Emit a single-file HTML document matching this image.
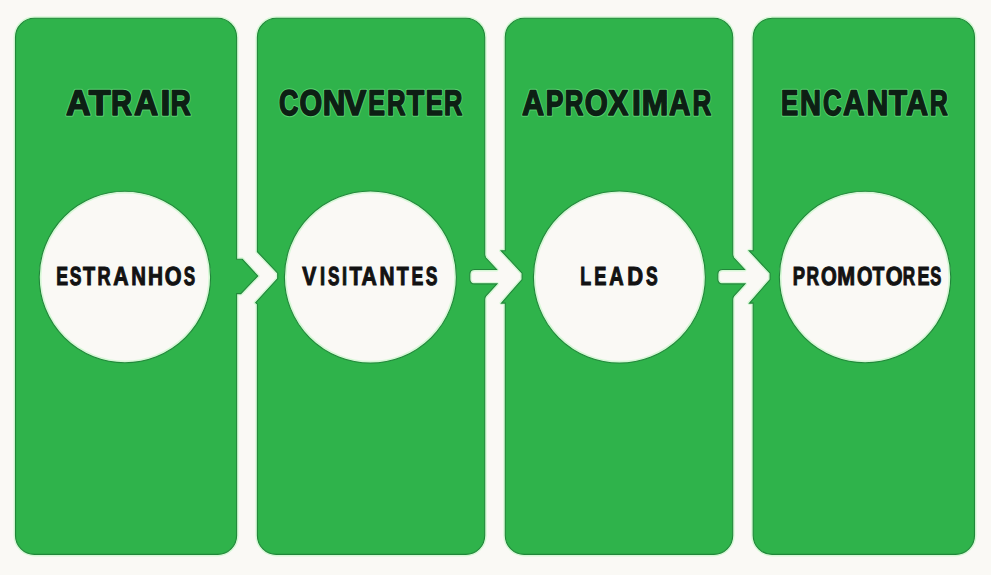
<!DOCTYPE html>
<html><head><meta charset="utf-8">
<style>
html,body{margin:0;padding:0;background:#faf9f5;width:991px;height:575px;overflow:hidden;}
svg{display:block;}
.h{text-rendering:geometricPrecision;font-family:"Liberation Sans",sans-serif;font-weight:bold;fill:#0d1f14;stroke:#0d1f14;stroke-width:1.7;stroke-linejoin:round;}
.l{text-rendering:geometricPrecision;font-family:"Liberation Sans",sans-serif;font-weight:bold;fill:#121212;stroke:#121212;stroke-width:0.5;}
</style></head>
<body>
<svg width="991" height="575" viewBox="0 0 991 575">
<rect x="0" y="0" width="991" height="575" fill="#faf9f5"/>
<g fill="none" stroke="#d6f8d6" stroke-width="4" stroke-linejoin="round">
<path d="M34.5 18.2H217.6A19 19 0 0 1 236.6 37.2V259.3H242.3L257.7 276L240.8 293.6H236.6V535.4A19 19 0 0 1 217.6 554.4H34.5A19 19 0 0 1 15.5 535.4V37.2A19 19 0 0 1 34.5 18.2Z"/>
<path d="M276.4 18.2H465.7A19 19 0 0 1 484.7 37.2V254Q484.7 256.6 485.9 258L496.5 269.5H474.8Q469.8 269.5 469.8 274.5V278.9Q469.8 283.9 474.8 283.9H496.95L485.9 295.8Q484.7 297.2 484.7 299.5V535.4A19 19 0 0 1 465.7 554.4H276.4A19 19 0 0 1 257.4 535.4V304.2L255.7 302.6L277.7 278.6V273.1L257.4 251.7V37.2A19 19 0 0 1 276.4 18.2Z"/>
<path d="M524.3 18.2H713.7A19 19 0 0 1 732.7 37.2V254Q732.7 256.6 733.9000000000001 258L744.5 269.5H722.8Q717.8 269.5 717.8 274.5V278.9Q717.8 283.9 722.8 283.9H744.95L733.9000000000001 295.8Q732.7 297.2 732.7 299.5V535.4A19 19 0 0 1 713.7 554.4H524.3A19 19 0 0 1 505.3 535.4V303.1H501.5L522.1 279.5V273.2L501.2 250.7H505.3V37.2A19 19 0 0 1 524.3 18.2Z"/>
<path d="M772.2 18.2H955.5A19 19 0 0 1 974.5 37.2V535.4A19 19 0 0 1 955.5 554.4H772.2A19 19 0 0 1 753.2 535.4V303.1H749.5L770.1 279.5V273.2L749.2 250.7H753.2V37.2A19 19 0 0 1 772.2 18.2Z"/>
</g>
<g fill="#2fb34b" stroke="#21873a" stroke-width="1.1">
<path d="M34.5 18.2H217.6A19 19 0 0 1 236.6 37.2V259.3H242.3L257.7 276L240.8 293.6H236.6V535.4A19 19 0 0 1 217.6 554.4H34.5A19 19 0 0 1 15.5 535.4V37.2A19 19 0 0 1 34.5 18.2Z"/>
<path d="M276.4 18.2H465.7A19 19 0 0 1 484.7 37.2V254Q484.7 256.6 485.9 258L496.5 269.5H474.8Q469.8 269.5 469.8 274.5V278.9Q469.8 283.9 474.8 283.9H496.95L485.9 295.8Q484.7 297.2 484.7 299.5V535.4A19 19 0 0 1 465.7 554.4H276.4A19 19 0 0 1 257.4 535.4V304.2L255.7 302.6L277.7 278.6V273.1L257.4 251.7V37.2A19 19 0 0 1 276.4 18.2Z"/>
<path d="M524.3 18.2H713.7A19 19 0 0 1 732.7 37.2V254Q732.7 256.6 733.9000000000001 258L744.5 269.5H722.8Q717.8 269.5 717.8 274.5V278.9Q717.8 283.9 722.8 283.9H744.95L733.9000000000001 295.8Q732.7 297.2 732.7 299.5V535.4A19 19 0 0 1 713.7 554.4H524.3A19 19 0 0 1 505.3 535.4V303.1H501.5L522.1 279.5V273.2L501.2 250.7H505.3V37.2A19 19 0 0 1 524.3 18.2Z"/>
<path d="M772.2 18.2H955.5A19 19 0 0 1 974.5 37.2V535.4A19 19 0 0 1 955.5 554.4H772.2A19 19 0 0 1 753.2 535.4V303.1H749.5L770.1 279.5V273.2L749.2 250.7H753.2V37.2A19 19 0 0 1 772.2 18.2Z"/>
</g>
<g fill="#faf9f5">
<circle cx="124.9" cy="277" r="85.7"/>
<circle cx="124.9" cy="277" r="84.5" fill="none" stroke="#d6f8d6" stroke-width="2"/>
<circle cx="124.9" cy="277" r="85.7" fill="none" stroke="#21873a" stroke-width="1.1"/>
<circle cx="370.4" cy="277" r="86"/>
<circle cx="370.4" cy="277" r="84.8" fill="none" stroke="#d6f8d6" stroke-width="2"/>
<circle cx="370.4" cy="277" r="86" fill="none" stroke="#21873a" stroke-width="1.1"/>
<circle cx="619.4" cy="277" r="86"/>
<circle cx="619.4" cy="277" r="84.8" fill="none" stroke="#d6f8d6" stroke-width="2"/>
<circle cx="619.4" cy="277" r="86" fill="none" stroke="#21873a" stroke-width="1.1"/>
<circle cx="865.05" cy="277" r="85.7"/>
<circle cx="865.05" cy="277" r="84.5" fill="none" stroke="#d6f8d6" stroke-width="2"/>
<circle cx="865.05" cy="277" r="85.7" fill="none" stroke="#21873a" stroke-width="1.1"/>
</g>
<g class="h" font-size="35.7" style="stroke:#58cf6f;stroke-width:3.6;fill:#58cf6f">
<text transform="translate(65.88 114.95) scale(0.956 1)">A</text>
<text transform="translate(88.67 114.95) scale(1.000 1)">T</text>
<text transform="translate(111.03 114.95) scale(0.815 1)">R</text>
<text transform="translate(134.08 114.95) scale(0.940 1)">A</text>
<text transform="translate(160.55 114.95) scale(0.994 1)">I</text>
<text transform="translate(170.38 114.95) scale(0.786 1)">R</text>
<text transform="translate(279.07 114.95) scale(0.752 1)">C</text>
<text transform="translate(299.53 114.95) scale(0.815 1)">O</text>
<text transform="translate(322.74 114.95) scale(0.876 1)">N</text>
<text transform="translate(343.98 114.95) scale(0.937 1)">V</text>
<text transform="translate(368.21 114.95) scale(0.702 1)">E</text>
<text transform="translate(386.88 114.95) scale(0.720 1)">R</text>
<text transform="translate(406.70 114.95) scale(0.797 1)">T</text>
<text transform="translate(425.68 114.95) scale(0.720 1)">E</text>
<text transform="translate(444.09 114.95) scale(0.712 1)">R</text>
<text transform="translate(522.09 114.95) scale(0.858 1)">A</text>
<text transform="translate(545.84 114.95) scale(0.743 1)">P</text>
<text transform="translate(564.87 114.95) scale(0.724 1)">R</text>
<text transform="translate(584.72 114.95) scale(0.830 1)">O</text>
<text transform="translate(608.27 114.95) scale(0.841 1)">X</text>
<text transform="translate(631.91 114.95) scale(0.890 1)">I</text>
<text transform="translate(641.81 114.95) scale(0.891 1)">M</text>
<text transform="translate(668.89 114.95) scale(0.831 1)">A</text>
<text transform="translate(692.57 114.95) scale(0.728 1)">R</text>
<text transform="translate(781.08 114.95) scale(0.720 1)">E</text>
<text transform="translate(800.03 114.95) scale(0.814 1)">N</text>
<text transform="translate(823.09 114.95) scale(0.724 1)">C</text>
<text transform="translate(842.89 114.95) scale(0.839 1)">A</text>
<text transform="translate(866.58 114.95) scale(0.845 1)">N</text>
<text transform="translate(889.01 114.95) scale(0.828 1)">T</text>
<text transform="translate(906.09 114.95) scale(0.858 1)">A</text>
<text transform="translate(929.81 114.95) scale(0.699 1)">R</text>
</g>
<g class="h" font-size="35.7" style="stroke-width:1.6">
<text transform="translate(65.88 114.95) scale(0.956 1)">A</text>
<text transform="translate(88.67 114.95) scale(1.000 1)">T</text>
<text transform="translate(111.03 114.95) scale(0.815 1)">R</text>
<text transform="translate(134.08 114.95) scale(0.940 1)">A</text>
<text transform="translate(160.55 114.95) scale(0.994 1)">I</text>
<text transform="translate(170.38 114.95) scale(0.786 1)">R</text>
<text transform="translate(279.07 114.95) scale(0.752 1)">C</text>
<text transform="translate(299.53 114.95) scale(0.815 1)">O</text>
<text transform="translate(322.74 114.95) scale(0.876 1)">N</text>
<text transform="translate(343.98 114.95) scale(0.937 1)">V</text>
<text transform="translate(368.21 114.95) scale(0.702 1)">E</text>
<text transform="translate(386.88 114.95) scale(0.720 1)">R</text>
<text transform="translate(406.70 114.95) scale(0.797 1)">T</text>
<text transform="translate(425.68 114.95) scale(0.720 1)">E</text>
<text transform="translate(444.09 114.95) scale(0.712 1)">R</text>
<text transform="translate(522.09 114.95) scale(0.858 1)">A</text>
<text transform="translate(545.84 114.95) scale(0.743 1)">P</text>
<text transform="translate(564.87 114.95) scale(0.724 1)">R</text>
<text transform="translate(584.72 114.95) scale(0.830 1)">O</text>
<text transform="translate(608.27 114.95) scale(0.841 1)">X</text>
<text transform="translate(631.91 114.95) scale(0.890 1)">I</text>
<text transform="translate(641.81 114.95) scale(0.891 1)">M</text>
<text transform="translate(668.89 114.95) scale(0.831 1)">A</text>
<text transform="translate(692.57 114.95) scale(0.728 1)">R</text>
<text transform="translate(781.08 114.95) scale(0.720 1)">E</text>
<text transform="translate(800.03 114.95) scale(0.814 1)">N</text>
<text transform="translate(823.09 114.95) scale(0.724 1)">C</text>
<text transform="translate(842.89 114.95) scale(0.839 1)">A</text>
<text transform="translate(866.58 114.95) scale(0.845 1)">N</text>
<text transform="translate(889.01 114.95) scale(0.828 1)">T</text>
<text transform="translate(906.09 114.95) scale(0.858 1)">A</text>
<text transform="translate(929.81 114.95) scale(0.699 1)">R</text>
</g>
<g class="l" font-size="26.1" style="stroke-width:1.1">
<text transform="translate(56.30 285.25) scale(0.679 1)">E</text>
<text transform="translate(69.74 285.25) scale(0.670 1)">S</text>
<text transform="translate(82.88 285.25) scale(0.760 1)">T</text>
<text transform="translate(97.59 285.25) scale(0.695 1)">R</text>
<text transform="translate(113.20 285.25) scale(0.812 1)">A</text>
<text transform="translate(131.19 285.25) scale(0.778 1)">N</text>
<text transform="translate(148.07 285.25) scale(0.797 1)">H</text>
<text transform="translate(164.75 285.25) scale(0.828 1)">O</text>
<text transform="translate(183.65 285.25) scale(0.652 1)">S</text>
<text transform="translate(302.37 285.25) scale(0.806 1)">V</text>
<text transform="translate(319.88 285.25) scale(0.700 1)">I</text>
<text transform="translate(328.05 285.25) scale(0.658 1)">S</text>
<text transform="translate(341.98 285.25) scale(0.700 1)">I</text>
<text transform="translate(349.38 285.25) scale(0.778 1)">T</text>
<text transform="translate(361.60 285.25) scale(0.812 1)">A</text>
<text transform="translate(379.57 285.25) scale(0.797 1)">N</text>
<text transform="translate(396.68 285.25) scale(0.748 1)">T</text>
<text transform="translate(411.40 285.25) scale(0.679 1)">E</text>
<text transform="translate(425.84 285.25) scale(0.670 1)">S</text>
<text transform="translate(580.20 285.25) scale(0.682 1)">L</text>
<text transform="translate(594.18 285.25) scale(0.698 1)">E</text>
<text transform="translate(609.30 285.25) scale(0.764 1)">A</text>
<text transform="translate(627.31 285.25) scale(0.841 1)">D</text>
<text transform="translate(645.94 285.25) scale(0.670 1)">S</text>
<text transform="translate(792.87 284.85) scale(0.706 1)">P</text>
<text transform="translate(806.42 284.85) scale(0.667 1)">R</text>
<text transform="translate(820.88 284.85) scale(0.776 1)">O</text>
<text transform="translate(837.14 284.85) scale(0.821 1)">M</text>
<text transform="translate(856.98 284.85) scale(0.760 1)">O</text>
<text transform="translate(872.48 284.85) scale(0.742 1)">T</text>
<text transform="translate(885.65 284.85) scale(0.828 1)">O</text>
<text transform="translate(902.83 284.85) scale(0.655 1)">R</text>
<text transform="translate(917.49 284.85) scale(0.691 1)">E</text>
<text transform="translate(930.35 284.85) scale(0.634 1)">S</text>
</g>
</svg>
</body></html>
